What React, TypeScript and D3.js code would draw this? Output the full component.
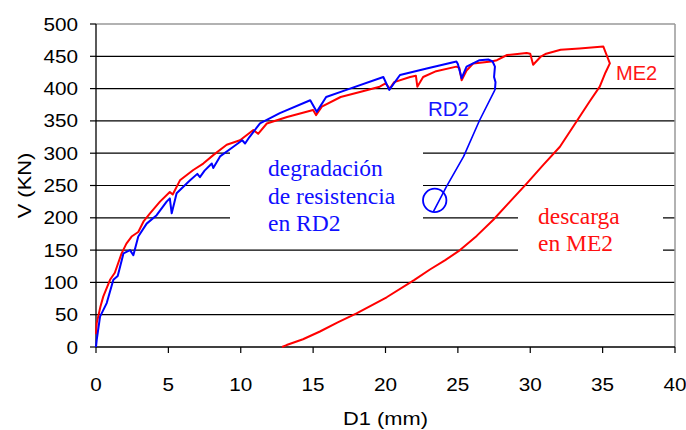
import React from "react";
import * as d3 from "d3";

const xTicks = [0, 5, 10, 15, 20, 25, 30, 35, 40];
const yTicks = [0, 50, 100, 150, 200, 250, 300, 350, 400, 450, 500];

// ME2 (red): loading envelope then unloading branch
const me2X = [0, 0.05, 0.3, 0.5, 0.97, 1.3, 1.77, 2.1, 2.46, 2.92, 3.3, 3.73, 4.42, 5.1, 5.3, 5.8, 6.72, 7.41, 8.1, 9.03, 9.95, 10.87, 11.2, 11.8, 13.2, 15.0, 15.2, 15.6, 16.9, 18.3, 19.6, 20.0, 20.3, 20.6, 21.7, 22.1, 22.2, 22.6, 23.5, 24.9, 25.1, 25.26, 25.6, 26.07, 27.3, 27.7, 28.4, 29.75, 30.0, 30.2, 30.7, 31.1, 32.1, 33.4, 35.05, 35.5,
  35.2, 34.8, 34.1, 33.4, 32.05, 30.9, 29.75, 28.6, 27.45, 26.3, 25.15, 24.1, 23.07, 22.0, 20.08, 18.0, 16.7, 15.47, 14.3, 13.17, 12.85];
const me2V = [20, 37, 62, 78, 104, 115, 145, 160, 171, 178, 195, 207, 225, 240, 236, 258, 274, 284, 297, 313, 320, 336, 330, 346, 356, 367, 359, 372, 387, 395, 403, 408, 400, 410, 418, 420, 403, 418, 427, 434, 432, 413, 428, 439, 442, 444, 452, 455, 454, 437, 449, 454, 460, 462, 465, 439,
  425, 403, 380, 356, 310, 282, 253, 225, 197, 172, 150, 134, 120, 104, 77, 52, 38, 24, 12, 3, 0];

// RD2 (blue): loading envelope then strength degradation
const rd2X = [0, 0.05, 0.28, 0.74, 1.2, 1.5, 1.9, 2.35, 2.58, 2.92, 3.5, 4.19, 4.88, 5.1, 5.23, 5.57, 6.5, 7.0, 7.18, 7.5, 8.0, 8.1, 8.57, 9.49, 10.1, 10.3, 10.6, 11.33, 12.7, 14.8, 15.25, 15.9, 17.3, 19.85, 20.26, 21.0, 22.85, 24.9, 25.0, 25.26, 25.6, 26.5, 27.1, 27.4, 27.56, 27.5, 27.6, 27.56,
  26.5, 25.4, 24.2, 23.3];
const rd2V = [0, 11, 47, 68, 104, 110, 145, 150, 142, 171, 191, 204, 225, 230, 207, 238, 258, 268, 263, 273, 284, 277, 295, 310, 320, 315, 325, 346, 362, 382, 364, 387, 398, 418, 398, 421, 431, 442, 438, 416, 434, 444, 445, 442, 434, 418, 410, 398,
  351, 295, 248, 209];

const circleX = 23.4;
const circleV = 227;

export default function App() {
  const x = d3.scaleLinear().domain([0, 40]).range([96, 675]);
  const y = d3.scaleLinear().domain([0, 500]).range([347, 24]);
  const line = d3.line<[number, number]>().x(d => x(d[0])).y(d => y(d[1]));
  const me2 = me2X.map((v, i) => [v, me2V[i]] as [number, number]);
  const rd2 = rd2X.map((v, i) => [v, rd2V[i]] as [number, number]);
  const rd2Load = rd2.slice(0, 48);
  const rd2Deg = rd2.slice(47);
  const sans = "'Liberation Sans', Arial, sans-serif";
  const serif = "'Liberation Serif', 'Times New Roman', serif";

  return (
    <svg width={686} height={430} style={{ position: "absolute", left: 0, top: 0, background: "#fff" }}>
      <rect x={0} y={0} width={686} height={430} fill="#fff" />
      {yTicks.filter(t => t > 0 && t < 500).map(t => (
        <line key={"g" + t} x1={x(0)} x2={x(40)} y1={y(t)} y2={y(t)} stroke="#000" strokeWidth={1.2} />
      ))}
      <line x1={x(0)} x2={x(40)} y1={y(500)} y2={y(500)} stroke="#999" strokeWidth={1.5} />
      <line x1={x(40)} x2={x(40)} y1={y(500)} y2={y(0)} stroke="#999" strokeWidth={1.5} />
      <rect x={230} y={140} width={193} height={95} fill="#fff" />
      <rect x={518} y={200} width={145} height={65} fill="#fff" />
      {/* axes */}
      <line x1={x(0)} x2={x(0)} y1={y(500)} y2={y(0)} stroke="#000" strokeWidth={1.3} />
      <line x1={x(0)} x2={x(40)} y1={y(0)} y2={y(0)} stroke="#000" strokeWidth={1.3} />
      {yTicks.map(t => (
        <g key={"yt" + t}>
          <line x1={x(0) - 6} x2={x(0)} y1={y(t)} y2={y(t)} stroke="#000" strokeWidth={1.2} />
          <g transform={`translate(78,${y(t) + 6.5}) scale(1.12,1)`}>
            <text textAnchor="end" fontFamily={sans} fontSize={18.5} fill="#000">{t}</text>
          </g>
        </g>
      ))}
      {xTicks.map(t => (
        <g key={"xt" + t}>
          <line x1={x(t)} x2={x(t)} y1={y(0)} y2={y(0) + 6} stroke="#000" strokeWidth={1.2} />
          <g transform={`translate(${x(t)},391) scale(1.12,1)`}>
            <text textAnchor="middle" fontFamily={sans} fontSize={18.5} fill="#000">{t}</text>
          </g>
        </g>
      ))}
      <g transform={`translate(385.5,425) scale(1.15,1)`}>
        <text textAnchor="middle" fontFamily={sans} fontSize={19} fill="#000">D1 (mm)</text>
      </g>
      <g transform={`translate(31,185.5) rotate(-90) scale(1.15,1)`}>
        <text textAnchor="middle" fontFamily={sans} fontSize={19} fill="#000">V (KN)</text>
      </g>
      {/* curves */}
      <path d={line(me2) || ""} fill="none" stroke="#ff0000" strokeWidth={2} strokeLinejoin="round" />
      <path d={line(rd2Load) || ""} fill="none" stroke="#0000ff" strokeWidth={2} strokeLinejoin="round" />
      <path d={line(rd2Deg) || ""} fill="none" stroke="#0000ff" strokeWidth={1.6} strokeLinejoin="round" />
      <circle cx={x(circleX)} cy={y(circleV)} r={11.7} fill="none" stroke="#0000ff" strokeWidth={1.8} />
      {/* labels */}
      <g transform="translate(428,116) scale(1.05,1)">
        <text fontFamily={sans} fontSize={19.5} fill="#1515ff">RD2</text>
      </g>
      <g transform="translate(616,80) scale(1.03,1)">
        <text fontFamily={sans} fontSize={19.5} fill="#ff1515">ME2</text>
      </g>
      <text fontFamily={serif} fontSize={23.5} fill="#1010ff">
        <tspan x={268} y={176}>degradación</tspan>
        <tspan x={268} y={203.5}>de resistencia</tspan>
        <tspan x={268} y={231}>en RD2</tspan>
      </text>
      <text fontFamily={serif} fontSize={23.5} fill="#ff1010">
        <tspan x={538} y={224}>descarga</tspan>
        <tspan x={538} y={251}>en ME2</tspan>
      </text>
    </svg>
  );
}
